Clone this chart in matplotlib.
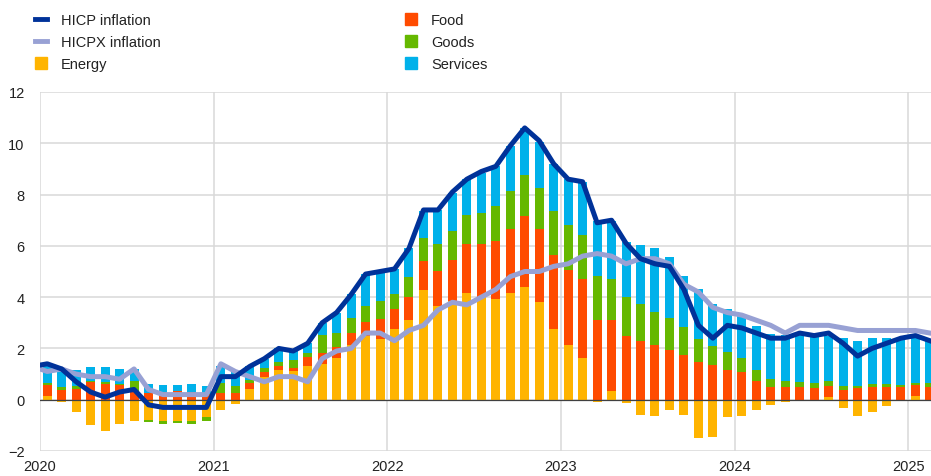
import numpy as np
import pandas as pd
import matplotlib
matplotlib.use('Agg')
import matplotlib.pyplot as plt
from matplotlib.lines import Line2D
from matplotlib.patches import Patch

plt.rcParams['font.family'] = ['Liberation Sans', 'DejaVu Sans']

# monthly data, Jan 2020 - Feb 2025 (contributions, percentage points)
months = pd.period_range('2020-01', '2025-02', freq='M')

energy = [0.16, -0.08, -0.47, -0.98, -1.22, -0.93, -0.84, -0.80, -0.84, -0.83, -0.84, -0.68,
          -0.42, -0.18, 0.40, 0.90, 1.15, 1.12, 1.30, 1.38, 1.62, 2.12, 2.50, 2.38,
          2.76, 3.12, 4.29, 3.65, 3.86, 4.15, 3.99, 3.93, 4.16, 4.41, 3.82, 2.76,
          2.15, 1.61, -0.08, 0.35, -0.13, -0.60, -0.65, -0.39, -0.60, -1.50, -1.44, -0.69,
          -0.65, -0.39, -0.20, -0.10, 0.0, 0.0, 0.09, -0.34, -0.65, -0.49, -0.23, 0.0,
          0.13, 0.0]
food = [0.40, 0.37, 0.40, 0.68, 0.62, 0.56, 0.30, 0.28, 0.30, 0.35, 0.32, 0.22,
        0.25, 0.25, 0.25, 0.20, 0.15, 0.13, 0.35, 0.45, 0.43, 0.48, 0.52, 0.75,
        0.78, 0.87, 1.12, 1.36, 1.60, 1.92, 2.08, 2.24, 2.50, 2.77, 2.83, 2.90,
        2.91, 3.09, 3.11, 2.76, 2.50, 2.30, 2.15, 1.95, 1.76, 1.46, 1.35, 1.16,
        1.09, 0.74, 0.51, 0.51, 0.51, 0.44, 0.43, 0.39, 0.44, 0.48, 0.48, 0.48,
        0.43, 0.48]
goods = [0.10, 0.13, 0.15, 0.06, 0.07, 0.06, 0.44, -0.05, -0.09, -0.07, -0.10, -0.14,
         0.40, 0.28, 0.12, 0.12, 0.19, 0.31, 0.19, 0.70, 0.56, 0.57, 0.65, 0.72,
         0.59, 0.81, 0.88, 1.06, 1.10, 1.14, 1.21, 1.37, 1.46, 1.59, 1.61, 1.70,
         1.76, 1.74, 1.70, 1.60, 1.50, 1.43, 1.26, 1.22, 1.07, 0.91, 0.75, 0.69,
         0.52, 0.42, 0.30, 0.23, 0.18, 0.20, 0.22, 0.13, 0.08, 0.15, 0.15, 0.09,
         0.09, 0.16]
services = [0.70, 0.75, 0.60, 0.52, 0.57, 0.58, 0.46, 0.33, 0.28, 0.22, 0.28, 0.33,
            0.66, 0.55, 0.53, 0.38, 0.51, 0.34, 0.38, 0.48, 0.79, 0.95, 1.23, 1.15,
            0.95, 1.10, 1.08, 1.33, 1.49, 1.39, 1.57, 1.56, 1.78, 1.83, 1.79, 1.84,
            1.78, 2.06, 2.17, 2.24, 2.14, 2.32, 2.49, 2.38, 2.01, 1.95, 1.63, 1.69,
            1.73, 1.73, 1.75, 1.78, 1.87, 1.86, 1.76, 1.87, 1.78, 1.76, 1.76, 1.82,
            1.85, 1.73]

# lines include Dec 2019 so they reach the left edge
hicp = [1.3,
        1.4, 1.2, 0.7, 0.3, 0.1, 0.3, 0.4, -0.2, -0.3, -0.3, -0.3, -0.3,
        0.9, 0.9, 1.3, 1.6, 2.0, 1.9, 2.2, 3.0, 3.4, 4.1, 4.9, 5.0,
        5.1, 5.9, 7.4, 7.4, 8.1, 8.6, 8.9, 9.1, 9.9, 10.6, 10.1, 9.2,
        8.6, 8.5, 6.9, 7.0, 6.1, 5.5, 5.3, 5.2, 4.3, 2.9, 2.4, 2.9,
        2.8, 2.6, 2.4, 2.4, 2.6, 2.5, 2.6, 2.2, 1.7, 2.0, 2.2, 2.4,
        2.5, 2.3]
hicpx = [1.3,
         1.1, 1.2, 1.0, 0.9, 0.9, 0.8, 1.2, 0.4, 0.2, 0.2, 0.2, 0.2,
         1.4, 1.1, 0.9, 0.7, 0.9, 0.9, 0.7, 1.6, 1.9, 2.0, 2.6, 2.6,
         2.3, 2.7, 2.9, 3.5, 3.8, 3.7, 4.0, 4.3, 4.8, 5.0, 5.0, 5.2,
         5.3, 5.6, 5.7, 5.6, 5.3, 5.5, 5.5, 5.3, 4.5, 4.2, 3.6, 3.4,
         3.3, 3.1, 2.9, 2.6, 2.9, 2.9, 2.9, 2.8, 2.7, 2.7, 2.7, 2.7,
         2.7, 2.6]

years = ['2020', '2021', '2022', '2023', '2024', '2025']

c_energy = '#ffb400'
c_food = '#ff4b00'
c_goods = '#65b800'
c_services = '#00b1ea'
c_hicp = '#003299'
c_hicpx = '#98a1d4'

fig = plt.figure(figsize=(9.31, 4.77), dpi=100)
ax = fig.add_axes([40 / 931, 25 / 477, 1 - 40 / 931, 359 / 477])

x = np.arange(len(months)) + 0.5
pos = np.zeros(len(months))
neg = np.zeros(len(months))
for vals, col in [(energy, c_energy), (food, c_food), (goods, c_goods), (services, c_services)]:
    v = np.array(vals)
    bottom = np.where(v >= 0, pos, neg)
    ax.bar(x, v, width=0.62, bottom=bottom, color=col, linewidth=0, zorder=2)
    pos = pos + np.where(v > 0, v, 0)
    neg = neg + np.where(v < 0, v, 0)

ax.axhline(0, color='#404040', lw=0.9, zorder=3)

xl = np.arange(len(hicp)) - 0.5
ax.plot(xl, hicpx, color=c_hicpx, lw=3.6, zorder=4, solid_joinstyle='round')
ax.plot(xl, hicp, color=c_hicp, lw=3.6, zorder=5, solid_joinstyle='round')

ax.set_xlim(0, 891 / 14.47)
ax.set_ylim(-2, 12)
ax.set_yticks(np.arange(-2, 13, 2))
ax.set_xticks(np.arange(0, 61, 12))
ax.set_xticklabels(years)
ax.grid(True, color='#d9d9d9', lw=1.1, zorder=0)
ax.set_axisbelow(True)
for s in ax.spines.values():
    s.set_visible(False)
ax.tick_params(length=0, labelsize=10.5, colors='#222222')
ax.tick_params(axis='y', pad=11)
ax.tick_params(axis='x', pad=6)

h1 = [Line2D([], [], color=c_hicp, lw=3.5),
      Line2D([], [], color=c_hicpx, lw=3.5),
      Patch(color=c_energy)]
h2 = [Patch(color=c_food), Patch(color=c_goods), Patch(color=c_services)]
kw = dict(loc='upper left', frameon=False, fontsize=10.5, handlelength=0.8,
          handleheight=0.8, handletextpad=1.0, labelspacing=0.55, borderpad=0,
          borderaxespad=0, labelcolor='#222222')
fig.legend(h1, ['HICP inflation', 'HICPX inflation', 'Energy'],
           bbox_to_anchor=(35 / 931, 1 - 14 / 477), **kw)
fig.legend(h2, ['Food', 'Goods', 'Services'],
           bbox_to_anchor=(405 / 931, 1 - 14 / 477), **kw)

fig.savefig('out.png', dpi=100)
